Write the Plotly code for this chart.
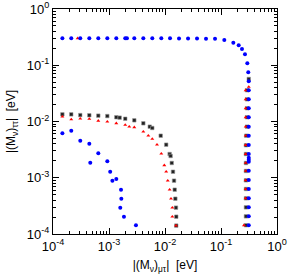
import plotly.graph_objects as go

# ---- data ----
blue_top_x = [1.47e-4, 2.12e-4, 3.07e-4, 4.45e-4, 6.44e-4, 9.33e-4, 1.35e-3, 1.95e-3, 2.09e-3,
              2.83e-3, 4.10e-3, 5.93e-3, 8.59e-3, 1.23e-2, 1.78e-2, 2.58e-2, 3.73e-2, 5.40e-2,
              7.82e-2, 0.1146, 0.166, 0.207, 0.237, 0.268, 0.295, 0.307, 0.313, 0.313, 0.313,
              0.313, 0.313, 0.313, 0.313, 0.313, 0.313, 0.313, 0.313, 0.313, 0.313, 0.313,
              0.313, 0.313, 0.313, 0.313, 0.313]
blue_top_y = [0.301, 0.301, 0.301, 0.301, 0.301, 0.301, 0.301, 0.301, 0.301,
              0.301, 0.301, 0.301, 0.301, 0.301, 0.300, 0.300, 0.299, 0.297,
              0.295, 0.281, 0.252, 0.226, 0.194, 0.157, 0.108, 0.0749, 0.0518, 0.0359, 0.0248,
              0.0172, 0.0119, 8.09e-3, 5.59e-3, 3.82e-3, 2.64e-3, 2.27e-3, 2.09e-3, 1.93e-3, 1.33e-3,
              9.12e-4, 6.31e-4, 4.31e-4, 2.98e-4, 2.06e-4, 1.43e-4]

blue_low_x = [1.47e-4, 2.12e-4, 3.07e-4, 4.45e-4, 4.63e-4, 6.44e-4, 9.33e-4, 1.05e-3,
              1.15e-3, 1.35e-3, 1.64e-3, 1.66e-3, 1.59e-3, 1.85e-3, 3.03e-3]
blue_low_y = [6.17e-3, 6.86e-3, 4.56e-3, 4.03e-3, 1.85e-3, 2.72e-3, 1.96e-3, 1.28e-3,
              8.87e-4, 9.50e-4, 6.13e-4, 4.24e-4, 2.94e-4, 2.03e-4, 1.43e-4]

black_x = [1.47e-4, 2.12e-4, 3.07e-4, 4.45e-4, 6.44e-4, 9.33e-4, 1.35e-3, 1.55e-3, 1.95e-3,
           2.83e-3, 4.10e-3, 5.34e-3, 5.93e-3, 8.38e-3, 1.05e-2, 1.21e-2, 1.26e-2, 1.32e-2,
           1.39e-2, 1.45e-2, 1.49e-2, 1.53e-2, 1.57e-2, 1.59e-2, 1.59e-2,
           0.313, 0.291, 0.291, 0.291, 0.291, 0.291, 0.282, 0.279, 0.279, 0.279, 0.279,
           0.279, 0.279, 0.279, 0.279, 0.279, 0.279]
black_y = [1.34e-2, 1.34e-2, 1.30e-2, 1.29e-2, 1.27e-2, 1.25e-2, 1.19e-2, 1.17e-2, 1.12e-2,
           1.05e-2, 9.29e-3, 8.09e-3, 7.66e-3, 5.59e-3, 3.87e-3, 2.64e-3, 2.44e-3, 1.83e-3,
           1.28e-3, 8.87e-4, 6.13e-4, 4.24e-4, 2.94e-4, 2.03e-4, 1.41e-4,
           0.0570, 0.0359, 0.0248, 0.0172, 0.0119, 8.09e-3, 5.59e-3, 3.78e-3, 2.64e-3, 1.83e-3, 1.32e-3,
           9.01e-4, 6.31e-4, 4.31e-4, 2.98e-4, 2.06e-4, 1.43e-4]

red_x = [1.47e-4, 2.12e-4, 3.07e-4, 4.45e-4, 6.44e-4, 9.33e-4, 1.35e-3, 1.95e-3, 2.30e-3,
         2.83e-3, 4.10e-3, 5.04e-3, 5.93e-3, 7.20e-3, 8.59e-3, 9.72e-3, 1.05e-2, 1.12e-2,
         1.21e-2, 1.28e-2, 1.35e-2, 1.35e-2, 1.57e-2,
         2.76e-4, 0.313, 0.276, 0.276, 0.276, 0.276, 0.276, 0.276, 0.276, 0.276, 0.276,
         0.276, 0.276, 0.276, 0.276, 0.257]
red_y = [1.22e-2, 1.09e-2, 1.12e-2, 1.11e-2, 1.03e-2, 9.91e-3, 9.29e-3, 8.67e-3, 8.09e-3,
         7.88e-3, 6.59e-3, 5.59e-3, 4.89e-3, 3.87e-3, 2.68e-3, 1.66e-3, 1.28e-3, 8.87e-4,
         6.13e-4, 4.24e-4, 2.94e-4, 2.03e-4, 1.41e-4,
         0.301, 0.0411, 0.0359, 0.0248, 0.0172, 0.0119, 8.09e-3, 5.59e-3, 3.82e-3, 2.64e-3, 1.83e-3,
         1.32e-3, 9.01e-4, 6.31e-4, 4.31e-4, 1.43e-4]

major_vals = [1e-4, 1e-3, 1e-2, 1e-1, 1]
major_text = ["10<sup>-4</sup>", "10<sup>-3</sup>", "10<sup>-2</sup>", "10<sup>-1</sup>", "10<sup>0</sup>"]
minor_vals = [k * 10.0 ** e for e in range(-4, 0) for k in range(2, 10)]

FONT = "Liberation Sans, Arial, sans-serif"

fig = go.Figure()
fig.add_trace(go.Scatter(x=black_x, y=black_y, mode="markers",
                         marker=dict(symbol="square", size=3.5, color="#222222", line=dict(width=0.6, color="#999999"))))
fig.add_trace(go.Scatter(x=red_x, y=red_y, mode="markers",
                         marker=dict(symbol="triangle-up", size=3.5, color="#ff0000", line=dict(width=0))))
fig.add_trace(go.Scatter(x=blue_top_x, y=blue_top_y, mode="markers",
                         marker=dict(symbol="circle", size=4, color="#0000ff", line=dict(width=0))))
fig.add_trace(go.Scatter(x=blue_low_x, y=blue_low_y, mode="markers",
                         marker=dict(symbol="circle", size=4, color="#0000ff", line=dict(width=0))))

axis_common = dict(
    type="log", range=[-4, 0], tickmode="array", tickvals=major_vals, ticktext=major_text,
    ticks="inside", ticklen=6, tickwidth=1, tickcolor="#000", showline=True, linecolor="#000",
    linewidth=1, mirror="allticks", showgrid=False, zeroline=False, automargin=False,
    tickfont=dict(family=FONT, size=13, color="#000"),
    minor=dict(tickmode="array", tickvals=minor_vals, ticks="inside", ticklen=3,
               tickcolor="#000", showgrid=False),
)

fig.update_layout(
    width=289, height=275,
    margin=dict(l=53, r=12, t=9, b=41, autoexpand=False),
    paper_bgcolor="white", plot_bgcolor="white",
    showlegend=False,
    font=dict(family=FONT, size=12, color="#000"),
    xaxis=dict(axis_common, title=dict(text="|(M<sub>ν</sub>)<sub>μτ</sub>|  [eV]", standoff=8,
                                       font=dict(size=12))),
    yaxis=dict(axis_common, title=dict(text="|(M<sub>ν</sub>)<sub>ττ</sub>|  [eV]", standoff=8,
                                       font=dict(size=12))),
)

fig.write_html("out.html", config={"displayModeBar": False},
               post_script="document.body.style.margin='0';")
